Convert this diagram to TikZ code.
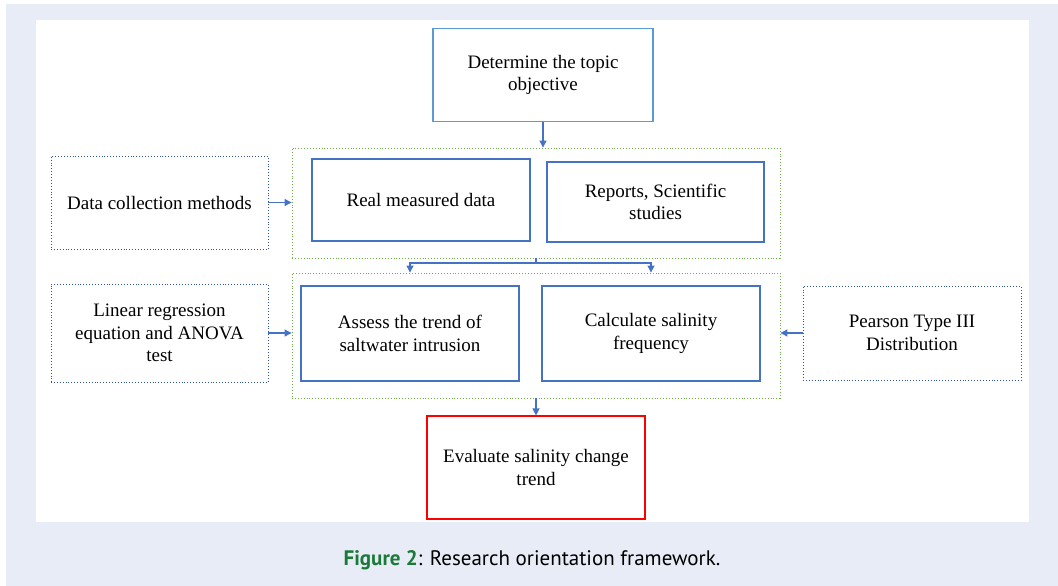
\documentclass[tikz,border=0pt]{standalone}
\usepackage{fontspec}
\setmainfont{Liberation Serif}
\newfontfamily\capfont{PT Sans}
\usetikzlibrary{arrows.meta,positioning}
\definecolor{bgc}{HTML}{E8ECF6}
\definecolor{boxblue}{HTML}{4472C4}
\definecolor{topblue}{HTML}{5B9BD5}
\definecolor{dotblue}{HTML}{2F5597}
\definecolor{grn}{HTML}{70AD47}
\definecolor{capgreen}{HTML}{1B7A3A}
\begin{document}
\begin{tikzpicture}[x=1pt,y=-1pt,
  every node/.style={font=\fontsize{19}{22.5}\selectfont, align=center, inner sep=0pt},
  solidbox/.style={draw=boxblue, line width=1.1pt, rectangle},
  dotbox/.style={draw=dotblue, line width=0.9pt, dotted, rectangle},
  grpbox/.style={draw=grn, line width=0.9pt, dotted, rectangle},
  redbox/.style={draw=red, line width=1.1pt, rectangle},
  conn/.style={draw=boxblue, line width=1.1pt, -{Triangle[width=7pt,length=7pt]}}
]
\useasboundingbox (0,0) rectangle (1058,586);
\fill[bgc] (6,4) rectangle (1058,586);
\fill[white] (36,20) rectangle (1029,522);

\node[solidbox, draw=topblue, minimum width=220pt, minimum height=93pt] (top) at (543,75) {Determine the topic\\objective};

\node[grpbox, minimum width=488pt, minimum height=110pt] (g1) at (536,203) {};
\node[solidbox, minimum width=218pt, minimum height=82pt] (rm) at (421,200) {Real measured data};
\node[solidbox, minimum width=217pt, minimum height=80pt] (rep) at (655.5,202) {Reports, Scientific\\studies};
\node[dotbox, minimum width=217pt, minimum height=93pt] (dc) at (159.5,202.5) {Data collection methods};

\node[grpbox, minimum width=488pt, minimum height=125pt] (g2) at (536,335.5) {};
\node[solidbox, minimum width=218pt, minimum height=95pt] (as) at (410,333.5) {Assess the trend of\\saltwater intrusion};
\node[solidbox, minimum width=218pt, minimum height=95pt] (cs) at (651,333.5) {Calculate salinity\\frequency};
\node[dotbox, minimum width=217pt, minimum height=98pt] (lr) at (159.5,333) {Linear regression\\equation and ANOVA\\test};
\node[dotbox, minimum width=218pt, minimum height=94pt] (pe) at (912,333) {Pearson Type III\\Distribution};

\node[redbox, minimum width=218pt, minimum height=103pt] (ev) at (536,467.5) {Evaluate salinity change\\trend};

\draw[conn] (top.south) -- (top.south |- g1.north);
\draw[conn] (dc.east) -- (dc.east -| g1.west);
\coordinate (br) at (536,263);
\draw[draw=boxblue, line width=1.1pt] (g1.south) -- (br);
\draw[conn] (br) -| (g2.north -| as.north);
\draw[conn] (br) -| (g2.north -| cs.north);
\draw[conn] (lr.east) -- (lr.east -| g2.west);
\draw[conn] (pe.west) -- (pe.west -| g2.east);
\draw[conn] (g2.south) -- (ev.north);

\node[font=\capfont\fontsize{21}{24}\selectfont] (cap) at (532,560) {\textcolor{capgreen}{\bfseries Figure 2}: Research orientation framework.};
\end{tikzpicture}
\end{document}
